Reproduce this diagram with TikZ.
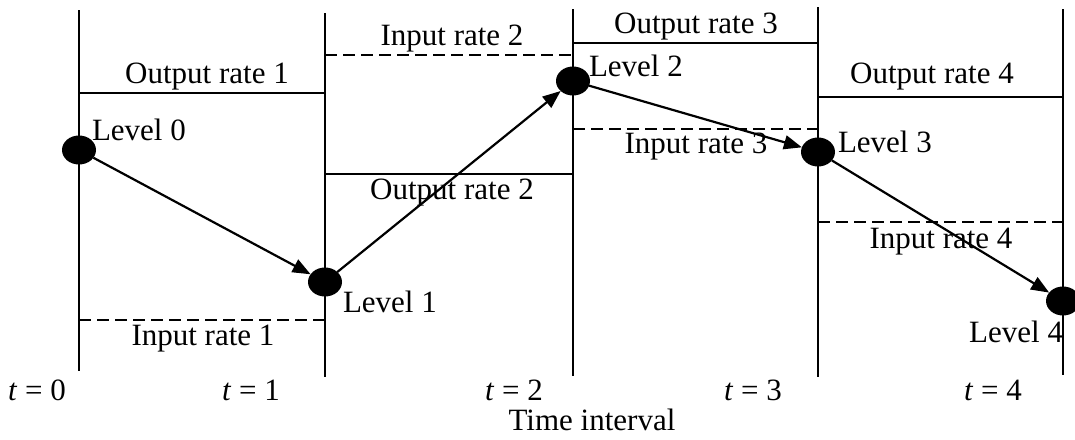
\documentclass[tikz,border=0pt]{standalone}
\usepackage{fontspec}
\setmainfont{Liberation Serif}
\usetikzlibrary{shapes.geometric,arrows.meta}
\begin{document}
\begin{tikzpicture}[x=1pt,y=-1pt,
  every node/.style={inner sep=0pt,outer sep=0pt},
  lbl/.style={anchor=base,font=\fontsize{31}{36}\selectfont},
  lblw/.style={anchor=base west,font=\fontsize{31}{36}\selectfont},
  lble/.style={anchor=base east,font=\fontsize{31}{36}\selectfont},
  vline/.style={line width=2.2pt},
  rateout/.style={line width=2.2pt},
  ratein/.style={line width=2.2pt,dash pattern=on 12pt off 6pt},
  dot/.style={ellipse,fill=black,minimum width=34pt,minimum height=29pt},
  arr/.style={line width=2.2pt,-{Triangle[length=18pt,width=14pt]}}]
\path[use as bounding box,clip] (0,0) rectangle (1075,439);
% time-step lines
\coordinate (v0t) at (79,10);   \coordinate (v0b) at (79,371);
\coordinate (v1t) at (325,13);  \coordinate (v1b) at (325,377);
\coordinate (v2t) at (573,9);   \coordinate (v2b) at (573,376);
\coordinate (v3t) at (818,7);   \coordinate (v3b) at (818,377);
\coordinate (v4t) at (1063,9);  \coordinate (v4b) at (1063,375);
\draw[vline] (v0t) -- (v0b);
\draw[vline] (v1t) -- (v1b);
\draw[vline] (v2t) -- (v2b);
\draw[vline] (v3t) -- (v3b);
\draw[vline] (v4t) -- (v4b);
% rate lines
\coordinate (o1a) at (79,93);   \coordinate (o1b) at (325,93);
\coordinate (i1a) at (79,320);  \coordinate (i1b) at (325,320);
\coordinate (i2a) at (325,55);  \coordinate (i2b) at (573,55);
\coordinate (o2a) at (325,174); \coordinate (o2b) at (573,174);
\coordinate (o3a) at (573,43);  \coordinate (o3b) at (818,43);
\coordinate (i3a) at (573,129); \coordinate (i3b) at (818,129);
\coordinate (o4a) at (818,97);  \coordinate (o4b) at (1063,97);
\coordinate (i4a) at (818,222); \coordinate (i4b) at (1063,222);
\draw[rateout] (o1a) -- (o1b);
\draw[ratein]  (i1a) -- (i1b);
\draw[ratein]  (i2a) -- (i2b);
\draw[rateout] (o2a) -- (o2b);
\draw[rateout] (o3a) -- (o3b);
\draw[ratein]  (i3a) -- (i3b);
\draw[rateout] (o4a) -- (o4b);
\draw[ratein]  (i4a) -- (i4b);
% rate labels
\node[lbl] (lo1) at (207,83)  {Output rate 1};
\node[lbl] (li1) at (203,345) {Input rate 1};
\node[lbl] (li2) at (452,45)  {Input rate 2};
\node[lbl] (lo2) at (452,199) {Output rate 2};
\node[lbl] (lo3) at (696,33)  {Output rate 3};
\node[lbl] (li3) at (696,153) {Input rate 3};
\node[lbl] (lo4) at (932,83)  {Output rate 4};
\node[lbl] (li4) at (941,248) {Input rate 4};
% level dots
\node[dot] (d0) at (79,150)  {};
\node[dot] (d1) at (325,282) {};
\node[dot] (d2) at (573,81)  {};
\node[dot] (d3) at (818,152) {};
\node[dot] (d4) at (1063,301) {};
\draw[arr] (d0) -- (d1);
\draw[arr] (d1) -- (d2);
\draw[arr] (d2) -- (d3);
\draw[arr] (d3) -- (d4);
% level labels
\node[lblw] (l0) at (92,140)  {Level 0};
\node[lblw] (l1) at (343,312) {Level 1};
\node[lblw] (l2) at (589,76)  {Level 2};
\node[lblw] (l3) at (838,152) {Level 3};
\node[lble] (l4) at (1063,342) {Level 4};
% time labels
\node[lbl] (t0) at (37,400)  {\textit{t} = 0};
\node[lbl] (t1) at (251,400) {\textit{t} = 1};
\node[lbl] (t2) at (514,400) {\textit{t} = 2};
\node[lbl] (t3) at (753,400) {\textit{t} = 3};
\node[lbl] (t4) at (993,400) {\textit{t} = 4};
\node[lbl] (ti) at (592,430) {Time interval};
\end{tikzpicture}
\end{document}
